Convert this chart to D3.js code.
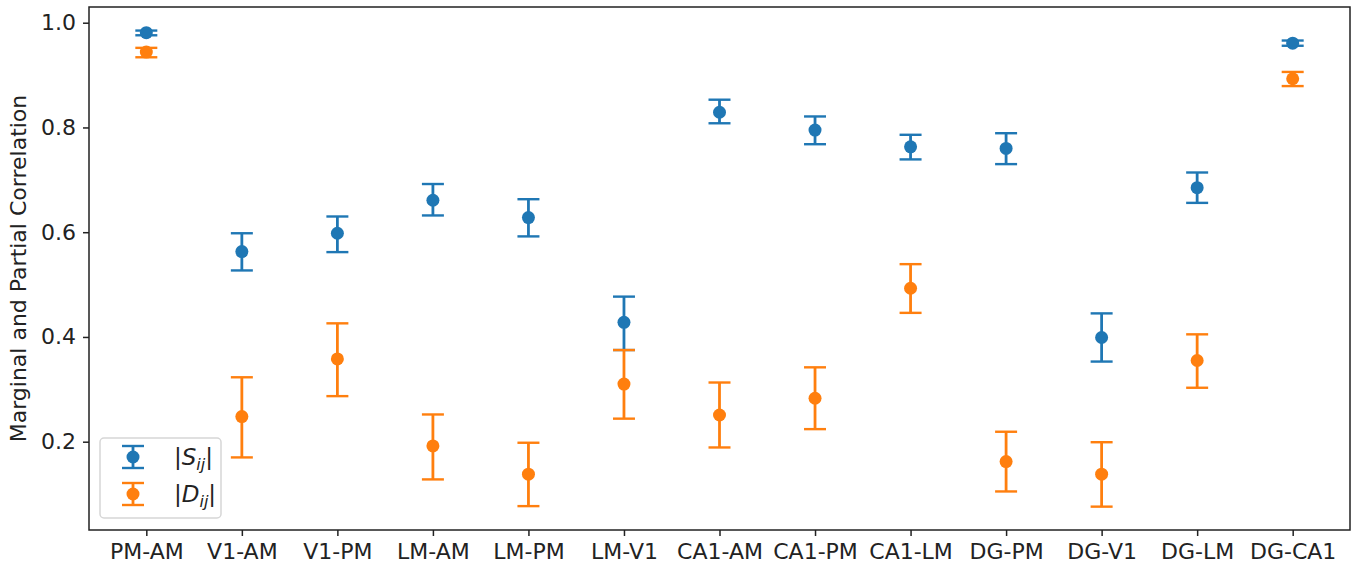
<!DOCTYPE html>
<html>
<meta charset="utf-8">
<style>
    body { margin: 0; background: #fff; }
    svg { display: block; }
    text { font-family: 'DejaVu Sans', sans-serif; fill: #222; }
</style>
<body>
<svg width="1359" height="572"></svg>
<script src="https://d3js.org/d3.v7.min.js"></script>
<script>
    // pairs on the x axis
    let pairs = ["PM-AM", "V1-AM", "V1-PM", "LM-AM", "LM-PM", "LM-V1", "CA1-AM", "CA1-PM", "CA1-LM", "DG-PM", "DG-V1", "DG-LM", "DG-CA1"];

    // |S_ij| marginal correlation: mean, lower and upper
    let sMean  = [0.981, 0.563, 0.598, 0.661, 0.628, 0.428, 0.829, 0.795, 0.763, 0.760, 0.399, 0.685, 0.961];
    let sLower = [0.976, 0.527, 0.562, 0.632, 0.592, 0.375, 0.808, 0.768, 0.739, 0.730, 0.353, 0.656, 0.956];
    let sUpper = [0.985, 0.598, 0.630, 0.692, 0.663, 0.477, 0.853, 0.821, 0.786, 0.789, 0.445, 0.714, 0.966];

    // |D_ij| partial correlation: mean, lower and upper
    let dMean  = [0.944, 0.248, 0.358, 0.192, 0.138, 0.310, 0.251, 0.283, 0.493, 0.162, 0.138, 0.355, 0.893];
    let dLower = [0.934, 0.170, 0.287, 0.128, 0.077, 0.244, 0.189, 0.224, 0.446, 0.105, 0.076, 0.303, 0.879];
    let dUpper = [0.952, 0.323, 0.426, 0.252, 0.198, 0.375, 0.313, 0.342, 0.539, 0.219, 0.199, 0.405, 0.906];

    let yTicks = [0.2, 0.4, 0.6, 0.8, 1.0];

    let margin = {top: 7, left: 89, right: 9, bottom: 42};
    let width = 1359 - margin.left - margin.right,
        height = 572 - margin.top - margin.bottom;

    let svg = d3.select("svg").append("g")
        .attr("transform", "translate(" + margin.left + "," + margin.top + ")");

    let xScale = d3.scaleLinear().domain([-0.6, 12.6]).range([0, width]);
    let yScale = d3.scaleLinear().domain([0.0314, 1.030]).range([height, 0]);

    // axes
    let xAxis = svg.append("g")
        .attr("transform", "translate(0," + height + ")")
        .call(d3.axisBottom(xScale).tickValues(d3.range(pairs.length))
              .tickFormat(i => pairs[i]).tickSizeInner(6).tickSizeOuter(0).tickPadding(7));
    let yAxis = svg.append("g")
        .call(d3.axisLeft(yScale).tickValues(yTicks).tickFormat(d3.format(".1f"))
              .tickSizeInner(6).tickSizeOuter(0).tickPadding(7));

    [xAxis, yAxis].forEach(function(a) {
        a.select(".domain").remove();
        a.selectAll(".tick line").attr("stroke", "#222").attr("stroke-width", 1.5);
        a.selectAll(".tick text").style("font-size", "22px").style("fill", "#222");
    });

    // frame
    svg.append("rect")
        .attr("width", width).attr("height", height)
        .attr("fill", "none").attr("stroke", "#222").attr("stroke-width", 1.5);

    svg.append("text")
        .attr("transform", "translate(" + (18 - margin.left) + "," + (height / 2) + ") rotate(-90)")
        .attr("text-anchor", "middle")
        .attr("dominant-baseline", "central")
        .style("font-size", "22px")
        .text("Marginal and Partial Correlation");

    let series = [
        {name: "S", color: "#1f77b4", mean: sMean, lower: sLower, upper: sUpper},
        {name: "D", color: "#ff7f0e", mean: dMean, lower: dLower, upper: dUpper}
    ];

    let capW = 11;

    series.forEach(function(s) {
        let g = svg.append("g");
        let rows = pairs.map((p, i) => ({i: i, m: s.mean[i], lo: s.lower[i], hi: s.upper[i]}));

        g.selectAll(".bar").data(rows).join("line")
            .attr("x1", d => xScale(d.i)).attr("x2", d => xScale(d.i))
            .attr("y1", d => yScale(d.lo)).attr("y2", d => yScale(d.hi))
            .attr("stroke", s.color).attr("stroke-width", 2.8);

        ["lo", "hi"].forEach(function(k) {
            g.selectAll(".cap-" + k).data(rows).join("line")
                .attr("x1", d => xScale(d.i) - capW).attr("x2", d => xScale(d.i) + capW)
                .attr("y1", d => yScale(d[k])).attr("y2", d => yScale(d[k]))
                .attr("stroke", s.color).attr("stroke-width", 2.4);
        });

        g.selectAll("circle").data(rows).join("circle")
            .attr("cx", d => xScale(d.i)).attr("cy", d => yScale(d.m))
            .attr("r", 6.5).attr("fill", s.color);
    });

    // legend
    let legend = svg.append("g").attr("transform", "translate(" + (100 - margin.left) + "," + (438 - margin.top) + ")");
    legend.append("rect")
        .attr("width", 121).attr("height", 80).attr("rx", 4)
        .attr("fill", "#fff").attr("fill-opacity", 0.8)
        .attr("stroke", "#d6d6d6").attr("stroke-width", 1.5);

    series.forEach(function(s, i) {
        let cy = 19 + i * 37, cx = 33;
        let e = legend.append("g");
        e.append("line").attr("x1", cx).attr("x2", cx).attr("y1", cy - 11).attr("y2", cy + 11)
            .attr("stroke", s.color).attr("stroke-width", 2.8);
        [-11, 11].forEach(function(o) {
            e.append("line").attr("x1", cx - capW).attr("x2", cx + capW).attr("y1", cy + o).attr("y2", cy + o)
                .attr("stroke", s.color).attr("stroke-width", 2.4);
        });
        e.append("circle").attr("cx", cx).attr("cy", cy).attr("r", 6.5).attr("fill", s.color);

        let t = e.append("text").attr("x", 74).attr("y", cy + 8).style("font-size", "23px");
        t.append("tspan").text("|");
        t.append("tspan").style("font-style", "italic").text(s.name);
        t.append("tspan").style("font-style", "italic").style("font-size", "16px").attr("dy", 5).text("ij");
        t.append("tspan").attr("dy", -5).text("|");
    });
</script>
</body>
</html>
